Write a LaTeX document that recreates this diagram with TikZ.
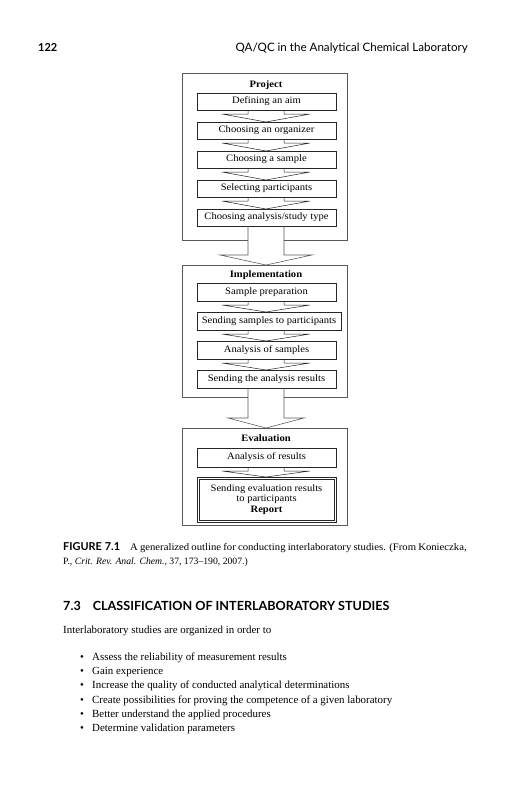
\documentclass[tikz,border=0pt]{standalone}
\usepackage{fontspec}
\setmainfont{Liberation Serif}
\newfontfamily\hsans{Lato}
\newfontfamily\dserif[FakeStretch=1.08]{Liberation Serif}
\newfontfamily\cserif[FakeStretch=1.06]{Liberation Serif}
\usetikzlibrary{calc}
\newcommand\dfont{\dserif\fontsize{9.8}{11.5}\selectfont}
\newcommand\smarrow[2]{\draw[ln] ($(ax |- #1.south)+(-18,0)$) -- ++(0,4) -- ++(-26,0) -- (ax |- #2.north) -- ($(ax |- #1.south)+(44,4)$) -- ++(-26,0) -- ++(0,-4);}
\newcommand\bigarrow[3]{\draw[fln] ($(ax |- #1.south)+(-18,0)$) -- ($(ax |- #2.north)+(-18,-10)$) -- ($(ax |- #2.north)+(-#3,-10)$) -- (ax |- #2.north) -- ($(ax |- #2.north)+(#3,-10)$) -- ($(ax |- #2.north)+(18,-10)$) -- ($(ax |- #1.south)+(18,0)$);}
\newcommand\frameopen[1]{\draw[fln] ($(ax |- #1.south)+(-18,0)$) -- (#1.south west) -- (#1.north west) -- (#1.north east) -- (#1.south east) -- ($(ax |- #1.south)+(18,0)$);}
\begin{document}
\begin{tikzpicture}[x=1pt,y=-1pt,
 ln/.style={draw=black!85, line width=0.5pt},
 fln/.style={draw=black!65, line width=0.55pt},
 box/.style={ln, rectangle, inner sep=0pt, outer sep=0pt, minimum width=139pt, minimum height=17pt, font=\dfont},
 frame/.style={rectangle, inner sep=0pt, outer sep=0pt, minimum width=165pt},
 ttl/.style={inner sep=0pt, font=\dfont\bfseries},
 bodytext/.style={anchor=base west, inner sep=0pt, font=\fontsize{10.9}{12}\selectfont},
 captext/.style={anchor=base west, inner sep=0pt, font=\fontsize{9.7}{11}\selectfont}]
\useasboundingbox[fill=white] (0,0) rectangle (528,800);
\coordinate (ax) at (266,0);

% running head
\node[anchor=base west, inner sep=0pt, font=\hsans\bfseries\fontsize{11}{12}\selectfont] (pg) at (38,52) {122};
\node[anchor=base east, inner sep=0pt, font=\hsans\fontsize{11.6}{13}\selectfont] (rh) at (468,52) {QA/QC in the Analytical Chemical Laboratory};

% frames
\node[frame, minimum height=167pt] (P) at (264.5,156.5) {};
\node[frame, minimum height=132pt] (I) at (264.5,331) {};
\node[frame, minimum height=97pt] (E) at (264.5,476.5) {};
\frameopen{P}
\frameopen{I}
\draw[fln] (E.south west) rectangle (E.north east);

% Project
\node[ttl] (tP) at (266,85) {Project};
\node[box] (p1) at (266.5,101.5) {Defining an aim};
\node[box] (p2) at (266.5,130.5) {Choosing an organizer};
\node[box] (p3) at (266.5,159.5) {Choosing a sample};
\node[box] (p4) at (266.5,188.5) {Selecting participants};
\node[box] (p5) at (266.5,217.5) {Choosing analysis/study type};
\smarrow{p1}{p2}
\smarrow{p2}{p3}
\smarrow{p3}{p4}
\smarrow{p4}{p5}
\bigarrow{p5}{I}{46}

% Implementation
\node[ttl] (tI) at (266,275) {Implementation};
\node[box, minimum height=18pt] (i1) at (266.5,292) {Sample preparation};
\node[box, minimum height=18pt, minimum width=144pt] (i2) at (269,321) {Sending samples to participants};
\node[box, minimum height=18pt] (i3) at (266.5,350) {Analysis of samples};
\node[box, minimum height=18pt] (i4) at (266.5,379) {Sending the analysis results};
\smarrow{i1}{i2}
\smarrow{i2}{i3}
\smarrow{i3}{i4}
\bigarrow{i4}{E}{38}

% Evaluation
\node[ttl] (tE) at (266,438) {Evaluation};
\node[box, minimum height=19pt] (e1) at (266.5,457.5) {Analysis of results};
\node[box, minimum height=45pt, line width=0.9pt, align=center] (e2) at (266.5,499.5) {Sending evaluation results\\[-1pt]to participants\\[-1pt]\textbf{Report}};
\draw[ln] ($(e2.south west)+(2.2,-2.2)$) rectangle ($(e2.north east)+(-2.2,2.2)$);
\smarrow{e1}{e2}

% caption
\node[captext] (cap1) at (63,550) {\makebox[403.5pt][s]{{\hsans\bfseries\fontsize{10.9}{11}\selectfont FIGURE\hspace{3pt}7.1}\hspace{10pt}{\cserif\fontsize{10.1}{11}\selectfont A generalized outline for conducting interlaboratory studies. (From Konieczka,}}};
\node[captext] (cap2) at (63,564) {P., \textit{Crit. Rev. Anal. Chem.}, 37, 173--190, 2007.)};

% section
\node[anchor=base west, inner sep=0pt, font=\hsans\bfseries\fontsize{12.6}{14}\selectfont] (sec) at (63,610) {7.3\hspace{12pt}CLASSIFICATION OF INTERLABORATORY STUDIES};
\node[bodytext] (intro) at (63,633) {Interlaboratory studies are organized in order to};

\foreach \t/\y [count=\k] in {Assess the reliability of measurement results/660,
 Gain experience/674,
 Increase the quality of conducted analytical determinations/688,
 Create possibilities for proving the competence of a given laboratory/703,
 Better understand the applied procedures/717,
 Determine validation parameters/731}{
 \node[bodytext] (b\k) at (80,\y) {\textbullet};
 \node[bodytext] (t\k) at (92,\y) {\t};
}
\end{tikzpicture}
\end{document}
